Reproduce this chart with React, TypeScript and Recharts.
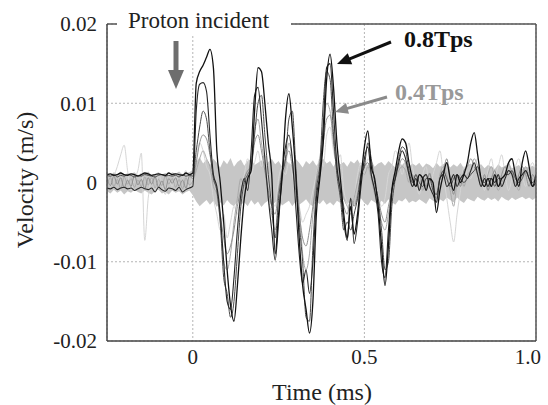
import { Area, CartesianGrid, ComposedChart, Line, ReferenceLine, XAxis, YAxis } from "recharts";

// velocities in mm/s, sampled every 0.01 ms
const time = [
  -0.25, -0.24, -0.23, -0.22, -0.21, -0.2, -0.19, -0.18, -0.17, -0.16,
  -0.15, -0.14, -0.13, -0.12, -0.11, -0.1, -0.09, -0.08, -0.07, -0.06,
  -0.05, -0.04, -0.03, -0.02, -0.01, 0, 0.01, 0.02, 0.03, 0.04,
  0.05, 0.06, 0.07, 0.08, 0.09, 0.1, 0.11, 0.12, 0.13, 0.14,
  0.15, 0.16, 0.17, 0.18, 0.19, 0.2, 0.21, 0.22, 0.23, 0.24,
  0.25, 0.26, 0.27, 0.28, 0.29, 0.3, 0.31, 0.32, 0.33, 0.34,
  0.35, 0.36, 0.37, 0.38, 0.39, 0.4, 0.41, 0.42, 0.43, 0.44,
  0.45, 0.46, 0.47, 0.48, 0.49, 0.5, 0.51, 0.52, 0.53, 0.54,
  0.55, 0.56, 0.57, 0.58, 0.59, 0.6, 0.61, 0.62, 0.63, 0.64,
  0.65, 0.66, 0.67, 0.68, 0.69, 0.7, 0.71, 0.72, 0.73, 0.74,
  0.75, 0.76, 0.77, 0.78, 0.79, 0.8, 0.81, 0.82, 0.83, 0.84,
  0.85, 0.86, 0.87, 0.88, 0.89, 0.9, 0.91, 0.92, 0.93, 0.94,
  0.95, 0.96, 0.97, 0.98, 0.99, 1.0,
];

// 0.8Tps traces (black)
const tps08a = [
  1.0, 1.1, 0.9, 1.0, 1.2, 1.0, 0.9, 1.1, 1.0, 0.8,
  1.0, 1.2, 1.1, 0.9, 1.0, 1.1, 1.0, 0.9, 1.2, 1.0,
  1.1, 1.0, 0.9, 1.2, 1.0, 1.2, 12.5, 14.0, 14.8, 15.8,
  16.8, 14.5, 4.0, 0.0, -5.0, -11.0, -15.5, -17.5, -13.0, -7.0,
  -2.0, 0.5, 1.5, 9.0, 14.5, 14.0, 10.0, 5.0, 1.0, -9.0,
  -4.0, 0.5, 8.0, 11.2, 7.0, 1.0, -7.0, -13.0, -16.0, -19.0,
  -15.0, -4.0, 0.5, 5.0, 13.0, 16.2, 12.0, 5.0, 0.5, -4.0,
  -7.0, -3.0, -6.5, -4.0, 0.5, 4.5, 6.5, 2.0, 0.5, -3.0,
  -8.0, -13.0, -8.0, -1.0, 1.5, 4.0, 5.5, 5.0, 2.5, 0.5,
  -0.5, 1.0, 0.5, -1.0, 0.5, 0.0, -3.8, -1.0, 1.0, 2.5,
  0.5, -1.0, 1.0, 0.0, 1.0, 2.5, 5.0, 6.3, 3.5, 0.5,
  -0.5, 0.5, -0.5, 1.0, -0.5, 0.5, 1.0, 2.5, 3.0, 1.0,
  -0.5, 2.5, 4.0, 2.0, -0.5, 1.0,
];

const tps08b = [
  -0.7, -0.8, -0.6, -0.9, -0.7, -0.6, -0.8, -0.7, -1.0, -0.8,
  -0.6, -0.8, -0.9, -0.7, -1.2, -0.6, -0.9, -1.1, -0.7, -0.8,
  -1.0, -0.6, -1.2, -0.9, -0.7, -0.5, 9.0, 12.4, 12.6, 11.5,
  6.0, 1.0, -0.5, -4.0, -10.0, -15.0, -16.0, -12.0, -6.0, -1.5,
  0.5, -1.0, 4.0, 11.0, 12.0, 8.0, 3.0, -2.0, -6.0, -9.8,
  -5.0, 1.0, 4.5, 6.0, 3.0, -3.0, -9.0, -12.7, -11.0, -14.0,
  -10.0, -2.0, 1.0, 7.0, 14.5, 15.0, 9.0, 2.0, -1.0, -5.0,
  -7.3, -2.0, -7.7, -5.0, -0.5, 3.0, 4.5, 1.0, -1.0, -4.0,
  -10.0, -12.0, -6.0, -1.0, 0.5, 2.5, 4.0, 3.0, 1.0, -0.5,
  0.5, -1.0, 0.5, 1.0, -0.5, -1.5, -2.5, 0.5, 1.0, -0.5,
  0.0, 1.0, -0.5, 0.5, 1.0, 0.5, 1.5, 2.5, 1.0, -0.5,
  0.5, -0.5, 0.5, 0.0, 1.0, -0.5, 0.5, 1.5, 1.0, -0.5,
  0.5, 1.0, 1.5, 0.5, -0.5, 0.0,
];

const tps08c = [
  0.9, 0.8, 1.0, 0.7, 0.9, 0.8, 1.0, 0.9, 0.7, 0.9,
  0.8, 1.0, 0.9, 0.8, 0.7, 0.9, 1.0, 0.8, 0.9, 0.8,
  0.9, 0.7, 1.0, 0.8, 0.9, 0.8, 4.0, 7.0, 9.0, 8.0,
  4.0, 0.5, -1.0, -5.0, -12.0, -14.0, -17.0, -15.0, -9.0, -3.0,
  0.0, 1.0, 2.0, 6.0, 10.0, 11.0, 6.0, 1.0, -3.0, -7.0,
  -2.0, 1.0, 3.0, 8.0, 9.0, 2.0, -5.0, -10.0, -17.0, -17.5,
  -8.0, -1.0, 2.0, 10.0, 14.0, 13.0, 6.0, 1.0, -2.0, -6.0,
  -5.0, -6.0, -4.0, -2.0, 1.0, 2.0, 5.0, 3.0, 0.0, -2.0,
  -6.0, -11.0, -10.0, -3.0, 0.5, 3.0, 4.5, 4.0, 1.5, 0.0,
  1.0, 0.0, -0.5, 0.5, 0.5, -1.0, -1.5, 0.5, 1.5, 0.5,
  -0.5, 0.5, 1.0, 0.5, 0.0, 0.5, 1.0, 1.5, 2.0, 0.5,
  0.0, 0.5, 0.5, -0.5, 0.5, 0.5, 1.0, 1.0, 1.5, 0.5,
  0.0, 0.5, 1.5, 0.5, 0.0, 0.5,
];

// 0.4Tps traces (gray)
const tps04a = [
  0.5, -0.4, 0.8, -0.2, 0.6, -0.7, 0.3, -0.5, 0.9, -0.3,
  0.4, -0.8, 0.6, -0.2, 0.7, -0.6, 0.2, -0.9, 0.5, -0.1,
  0.6, -0.5, 0.3, -0.7, 0.8, 0.5, 2.5, 5.0, 6.0, 5.5,
  3.5, 1.0, -1.0, -4.0, -7.0, -9.0, -8.0, -6.0, -3.0, -1.0,
  0.5, 1.5, 2.0, 5.0, 6.0, 4.0, 1.5, -1.0, -3.0, -4.0,
  -1.0, 1.5, 3.0, 4.0, 2.0, -1.0, -4.0, -7.0, -8.0, -6.0,
  -3.0, 0.0, 2.0, 5.0, 8.0, 8.5, 5.0, 1.5, -1.0, -3.0,
  -4.0, -2.0, -3.0, -1.5, 1.0, 2.0, 2.5, 1.0, -1.0, -2.0,
  -4.0, -5.0, -3.0, -1.0, 1.0, 2.0, 3.0, 2.5, 1.0, -0.5,
  1.0, -1.0, 0.8, -0.5, 1.2, -1.0, -2.0, 0.5, 1.5, 3.0,
  0.5, -1.5, 1.0, -0.5, 1.5, 2.0, 3.0, 2.0, 1.0, -0.5,
  1.0, -1.0, 0.5, 1.5, -0.5, 1.0, 2.0, 1.0, 1.5, -0.5,
  1.0, 2.0, 1.0, -0.5, 1.0, 0.0,
];

const tps04b = [
  -0.3, 0.6, -0.5, 0.4, -0.8, 0.7, -0.2, 0.5, -0.6, 0.3,
  -0.5, 0.7, -0.3, 0.6, -0.7, 0.4, -0.4, 0.8, -0.2, 0.5,
  -0.6, 0.4, -0.8, 0.6, -0.3, 0.2, 1.5, 3.0, 4.0, 3.0,
  2.0, -0.5, -1.5, -5.0, -10.0, -11.0, -9.0, -5.0, -2.0, 0.5,
  -0.5, 1.0, 3.0, 6.5, 8.0, 5.0, 2.0, -2.0, -4.0, -6.0,
  -2.0, 0.5, 2.0, 5.0, 3.0, 0.0, -3.0, -9.0, -11.0, -9.0,
  -4.0, 0.5, 3.0, 7.0, 10.0, 9.0, 6.0, 3.0, 0.0, -2.0,
  -3.0, -4.0, -2.0, 0.0, 1.5, 1.0, 2.0, 0.5, -1.5, -3.0,
  -5.0, -6.0, -4.0, -1.0, 0.5, 1.5, 2.0, 1.5, 0.0, 1.0,
  -0.5, 1.0, -1.0, 0.5, 1.0, -0.5, -1.5, 1.0, 2.0, 1.0,
  -1.0, -3.0, 0.0, 1.0, -0.5, 1.0, 1.5, 3.0, 2.0, 0.0,
  -0.5, 1.0, 2.0, 0.5, -1.0, 0.0, 1.0, 2.5, 1.0, 0.0,
  -1.0, 1.0, 2.0, 1.0, 0.5, -0.5,
];

// faint background trace
const faint = [
  0.5, -0.5, 0.8, 2.0, 3.5, 4.7, 1.5, -1.0, 0.5, 1.5,
  3.7, -7.3, -2.0, 0.5, -1.0, 1.0, 0.0, -1.5, 0.5, -0.5,
  1.0, -0.5, 0.5, 1.5, -1.0, 1.0, 3.0, 5.0, 4.0, 2.0,
  1.0, -2.0, -4.0, -6.0, -4.0, -7.0, -5.0, -3.0, -4.0, -1.0,
  1.0, 3.0, 1.0, 2.5, 4.0, 2.0, 3.5, 0.0, -2.0, -3.0,
  0.5, 2.0, 1.0, 2.5, 1.0, -2.0, -3.0, -5.0, -4.0, -3.0,
  -1.0, 1.0, 3.0, 2.0, 6.0, 7.0, 4.0, 2.5, 3.5, -1.0,
  -2.5, -3.5, -2.0, 1.0, 2.5, 1.0, 3.0, 2.0, 0.0, -1.5,
  -3.0, -2.0, 1.0, 2.0, 4.0, 3.0, 1.0, 3.0, 5.0, 2.0,
  0.0, -1.5, 1.0, 2.0, -1.0, 1.0, 2.5, 4.0, 1.0, -2.0,
  -5.0, -7.5, -4.0, -1.0, 2.0, 1.0, 0.5, 2.0, 3.0, 1.0,
  -1.0, 1.5, 3.0, 1.0, 2.0, 3.5, 1.0, -1.0, 0.5, 2.0,
  3.0, 1.0, -0.5, 1.5, 2.5, 1.0,
];

// noise envelope of all the overlaid traces
const bandHigh = [
  1.2, 0.9, 1.3, 1.0, 1.4, 0.9, 1.2, 1.1, 1.3, 0.9,
  1.2, 1.0, 1.4, 0.9, 1.1, 1.3, 1.0, 1.2, 0.9, 1.3,
  1.1, 1.4, 1.0, 1.2, 1.3, 1.6, 2.6, 3.2, 2.4, 2.9,
  2.2, 3.0, 2.5, 1.9, 2.8, 2.3, 3.1, 2.0, 2.6, 2.9,
  2.1, 2.7, 3.0, 2.2, 2.5, 2.8, 1.9, 2.6, 3.0, 2.3,
  2.7, 2.0, 2.9, 2.4, 2.2, 3.0, 2.5, 1.9, 2.7, 2.3,
  2.8, 2.1, 2.6, 3.0, 2.4, 2.7, 2.0, 2.8, 2.3, 2.6,
  2.0, 2.7, 2.4, 2.9, 2.1, 2.5, 2.2, 2.8, 2.0, 2.4,
  2.6, 2.1, 2.7, 2.3, 1.9, 2.5, 2.2, 2.7, 2.0, 2.4,
  2.1, 2.5, 1.9, 2.4, 2.2, 1.8, 2.5, 2.0, 2.3, 2.6,
  1.9, 2.3, 2.0, 2.5, 1.8, 2.2, 2.4, 1.9, 2.1, 2.3,
  1.8, 2.2, 2.0, 1.7, 2.3, 1.9, 2.1, 2.4, 1.8, 2.0,
  2.2, 1.7, 2.0, 1.9, 2.1, 1.8,
];
const bandLow = [
  -1.1, -1.4, -0.9, -1.3, -1.0, -1.5, -1.1, -1.3, -0.9, -1.2,
  -1.4, -1.0, -1.3, -1.5, -1.1, -0.9, -1.4, -1.2, -1.5, -1.0,
  -1.3, -1.1, -1.5, -1.2, -1.0, -1.6, -2.4, -3.0, -2.6, -2.2,
  -2.8, -2.3, -3.1, -2.5, -2.9, -2.2, -2.7, -3.0, -2.4, -2.8,
  -2.5, -3.0, -2.2, -2.8, -2.4, -3.1, -2.6, -2.3, -2.9, -2.5,
  -2.2, -2.9, -2.6, -2.3, -3.0, -2.4, -2.8, -2.5, -2.1, -2.7,
  -3.0, -2.4, -2.7, -2.2, -2.8, -2.5, -2.9, -2.3, -2.6, -2.1,
  -2.7, -2.3, -2.8, -2.4, -2.0, -2.6, -2.9, -2.2, -2.5, -2.8,
  -2.3, -2.7, -2.1, -2.5, -2.8, -2.2, -2.4, -2.0, -2.6, -2.3,
  -2.5, -2.1, -2.4, -2.7, -2.0, -2.3, -2.6, -2.1, -2.4, -1.9,
  -2.2, -2.5, -1.9, -2.3, -2.6, -2.0, -2.2, -2.4, -1.8, -2.1,
  -2.3, -1.9, -2.2, -2.0, -2.4, -1.8, -2.1, -2.3, -1.9, -2.2,
  -2.0, -1.8, -2.1, -1.9, -2.2, -1.9,
];

const xTicks = [0, 0.5, 1.0];
const xTickLabels = ["0", "0.5", "1.0"];
const yTicks = [-20, -10, 0, 10, 20];
const yTickLabels = ["-0.02", "-0.01", "0", "0.01", "0.02"];

const rows = time.map((t, i) => ({
  t,
  band: [bandLow[i], bandHigh[i]],
  a: tps08a[i],
  b: tps08b[i],
  c: tps08c[i],
  g1: tps04a[i],
  g2: tps04b[i],
  faint: faint[i],
}));

const SERIF = '"Liberation Serif", "Times New Roman", serif';

function XTick({ x, y, payload }: any) {
  const i = xTicks.indexOf(payload.value);
  const last = i === xTicks.length - 1;
  return (
    <text
      x={last ? x + 5 : x}
      y={y}
      dy="0.71em"
      textAnchor={last ? "end" : "middle"}
      fontSize={21}
      fill="#222"
      fontFamily={SERIF}
    >
      {xTickLabels[i]}
    </text>
  );
}

function Arrow({ x1, y1, x2, y2, color, width, head, half }: any) {
  const len = Math.hypot(x2 - x1, y2 - y1);
  const ux = (x2 - x1) / len;
  const uy = (y2 - y1) / len;
  const bx = x2 - ux * head;
  const by = y2 - uy * head;
  const px = -uy * half;
  const py = ux * half;
  return (
    <g>
      <line x1={x1} y1={y1} x2={bx + ux} y2={by + uy} stroke={color} strokeWidth={width} />
      <polygon points={`${x2},${y2} ${bx + px},${by + py} ${bx - px},${by - py}`} fill={color} />
    </g>
  );
}

export default function App() {
  return (
    <div style={{ position: "absolute", left: 0, top: 0, width: 548, height: 405, background: "#fff" }}>
      <ComposedChart width={548} height={405} data={rows} margin={{ top: 24, right: 12, bottom: 0, left: 0 }}>
        <CartesianGrid stroke="#b4b4b4" strokeDasharray="2 2" />
        <XAxis
          dataKey="t"
          type="number"
          domain={[-0.25, 1.0]}
          ticks={xTicks}
          allowDataOverflow
          height={64}
          tickLine={false}
          axisLine={{ stroke: "#444", strokeWidth: 1.5 }}
          tick={<XTick />}
        />
        <YAxis
          type="number"
          domain={[-20, 20]}
          ticks={yTicks}
          allowDataOverflow
          width={107}
          tickLine={false}
          tickMargin={4}
          axisLine={{ stroke: "#444", strokeWidth: 1.5 }}
          tickFormatter={(v: number) => yTickLabels[yTicks.indexOf(v)] ?? ""}
          tick={{ fontSize: 21, fill: "#222", fontFamily: SERIF }}
        />
        <Area dataKey="band" type="linear" stroke="none" fill="#c6c6c6" fillOpacity={1} isAnimationActive={false} />
        <Line dataKey="faint" type="monotone" stroke="#d6d6d6" strokeWidth={1} dot={false} isAnimationActive={false} />
        <Line dataKey="g2" type="monotone" stroke="#a9a9a9" strokeWidth={1} dot={false} isAnimationActive={false} />
        <Line dataKey="g1" type="monotone" stroke="#8f8f8f" strokeWidth={1} dot={false} isAnimationActive={false} />
        <Line dataKey="c" type="monotone" stroke="#4a4a4a" strokeWidth={1} dot={false} isAnimationActive={false} />
        <Line dataKey="b" type="monotone" stroke="#262626" strokeWidth={1.1} dot={false} isAnimationActive={false} />
        <Line dataKey="a" type="monotone" stroke="#111" strokeWidth={1.3} dot={false} isAnimationActive={false} />
        <ReferenceLine x={1.0} stroke="#555" strokeWidth={1.5} />
        <ReferenceLine y={20} stroke="#555" strokeWidth={1.5} />
      </ComposedChart>

      <svg
        width={548}
        height={405}
        style={{ position: "absolute", left: 0, top: 0, pointerEvents: "none" }}
        fontFamily={SERIF}
      >
        <rect x={117} y={10} width={174} height={24} fill="#fff" />
        <text x={128} y={28} fontSize={23} fill="#222">Proton incident</text>
        <Arrow x1={176} y1={41} x2={176} y2={89} color="#6e6e6e" width={5} head={19} half={8} />

        <text x={404} y={47} fontSize={24} fontWeight="bold" fill="#111">0.8Tps</text>
        <Arrow x1={391} y1={42} x2={337} y2={64} color="#111" width={3} head={14} half={6} />

        <text x={395} y={100} fontSize={24} fontWeight="bold" fill="#999">0.4Tps</text>
        <Arrow x1={387} y1={97} x2={335} y2={112} color="#8a8a8a" width={3} head={13} half={5.5} />

        <text x={322} y={400} fontSize={24} textAnchor="middle" fill="#222">Time (ms)</text>
        <text x={33} y={180} fontSize={24} textAnchor="middle" fill="#222" transform="rotate(-90 33 180)">
          Velocity (m/s)
        </text>
      </svg>
    </div>
  );
}
